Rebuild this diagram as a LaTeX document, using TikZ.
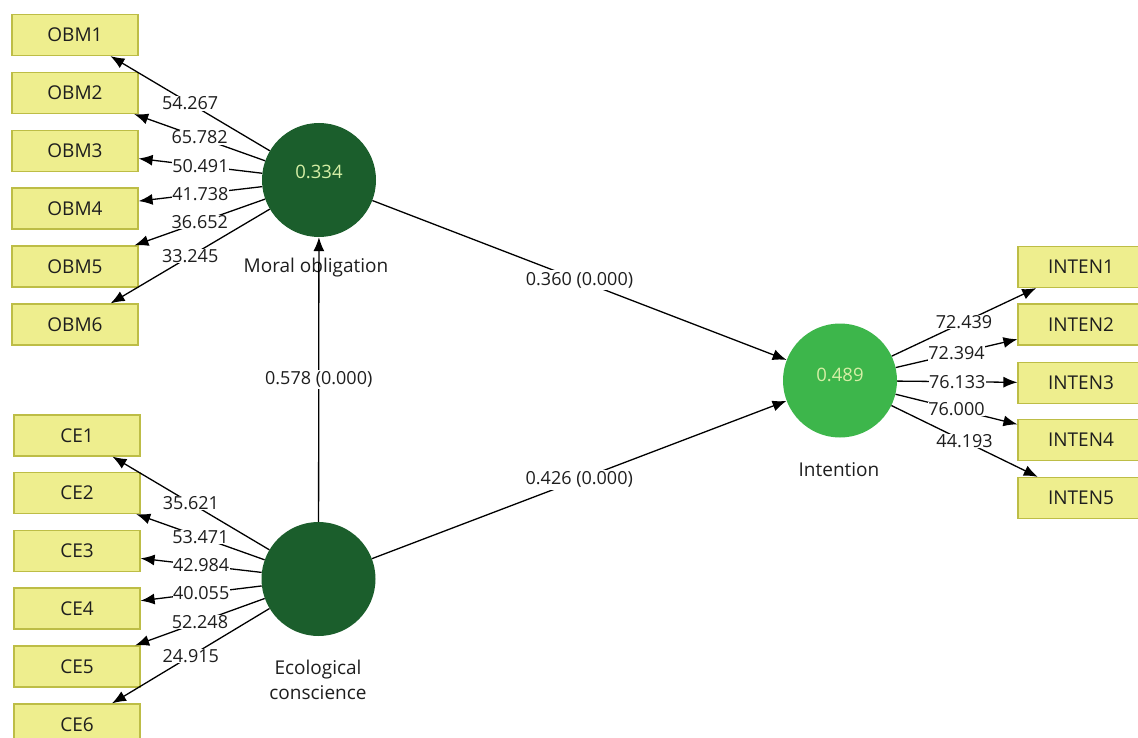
\documentclass[tikz,border=0pt]{standalone}
\usepackage{fontspec}
\setmainfont{Open Sans}
\usetikzlibrary{arrows.meta}
\definecolor{indfill}{HTML}{EEEE8E}
\definecolor{indline}{HTML}{BDBD46}
\definecolor{lvdark}{HTML}{1B5E2C}
\definecolor{lvlight}{HTML}{3DB64B}
\definecolor{rsqtext}{HTML}{D6EFA6}
\definecolor{ink}{HTML}{1E1E1E}

\begin{document}
\begin{tikzpicture}[x=1pt,y=-1pt,
  indicator/.style={draw=indline, fill=indfill, line width=1.2pt,
    minimum width=126pt, minimum height=41pt, inner sep=0pt,
    font=\fontsize{19}{22}\selectfont, text=ink},
  latent/.style={circle, minimum size=114pt, inner sep=0pt},
  lvname/.style={font=\fontsize{19}{25}\selectfont, text=ink, align=center},
  rsq/.style={text=rsqtext, font=\fontsize{18.5}{22}\selectfont},
  conn/.style={line width=1.3pt, draw=black, -{Latex[length=14pt,width=11pt]}},
  load/.style={fill=white, inner sep=0.5pt, text=ink, font=\fontsize{18}{21}\selectfont},
  coef/.style={fill=white, inner sep=2pt, text=ink, font=\fontsize{18}{21}\selectfont}
]
\useasboundingbox (0,0) rectangle (1138,738);
\fill[white] (0,0) rectangle (1138,738);

% indicators of moral obligation
\node[indicator] (obm1) at (75,35)    {OBM1};
\node[indicator] (obm2) at (75,93)    {OBM2};
\node[indicator] (obm3) at (75,151)   {OBM3};
\node[indicator] (obm4) at (75,208.5) {OBM4};
\node[indicator] (obm5) at (75,266.5) {OBM5};
\node[indicator] (obm6) at (75,324.5) {OBM6};

% indicators of ecological conscience
\node[indicator] (ce1) at (77,435.5) {CE1};
\node[indicator] (ce2) at (77,493)   {CE2};
\node[indicator] (ce3) at (77,551)   {CE3};
\node[indicator] (ce4) at (77,608.5) {CE4};
\node[indicator] (ce5) at (77,666.5) {CE5};
\node[indicator] (ce6) at (77,724.5) {CE6};

% indicators of intention
\node[indicator] (int1) at (1081,267)   {INTEN1};
\node[indicator] (int2) at (1081,324.5) {INTEN2};
\node[indicator] (int3) at (1081,383)   {INTEN3};
\node[indicator] (int4) at (1081,440)   {INTEN4};
\node[indicator] (int5) at (1081,498)   {INTEN5};

% latent variables
\node[latent, fill=lvdark] (mo) at (319,180) {};
\node[latent, fill=lvdark] (ec) at (318.5,579) {};
\node[latent, fill=lvlight] (in) at (840,380.5) {};

\node[rsq] (morsq) at (319,172) {0.334};
\node[rsq] (inrsq) at (840,375) {0.489};

\node[lvname] (moname) at (316,268) {Moral obligation};
\node[lvname] (ecname) at (318,680) {Ecological\\conscience};
\node[lvname] (inname) at (839,470) {Intention};

% outer loadings
\draw[conn] (mo) -- node[load] {54.267} (obm1);
\draw[conn] (mo) -- node[load] {65.782} (obm2);
\draw[conn] (mo) -- node[load] {50.491} (obm3);
\draw[conn] (mo) -- node[load] {41.738} (obm4);
\draw[conn] (mo) -- node[load] {36.652} (obm5);
\draw[conn] (mo) -- node[load] {33.245} (obm6);

\draw[conn] (ec) -- node[load] {35.621} (ce1);
\draw[conn] (ec) -- node[load] {53.471} (ce2);
\draw[conn] (ec) -- node[load] {42.984} (ce3);
\draw[conn] (ec) -- node[load] {40.055} (ce4);
\draw[conn] (ec) -- node[load] {52.248} (ce5);
\draw[conn] (ec) -- node[load] {24.915} (ce6);

\draw[conn] (in) -- node[load] {72.439} (int1);
\draw[conn] (in) -- node[load] {72.394} (int2);
\draw[conn] (in) -- node[load] {76.133} (int3);
\draw[conn] (in) -- node[load] {76.000} (int4);
\draw[conn] (in) -- node[load] {44.193} (int5);

% path coefficients
\draw[conn] (ec) -- node[coef] {0.578 (0.000)} (mo);
\draw[conn] (mo) -- node[coef] {0.360 (0.000)} (in);
\draw[conn] (ec) -- node[coef] {0.426 (0.000)} (in);
\end{tikzpicture}
\end{document}
